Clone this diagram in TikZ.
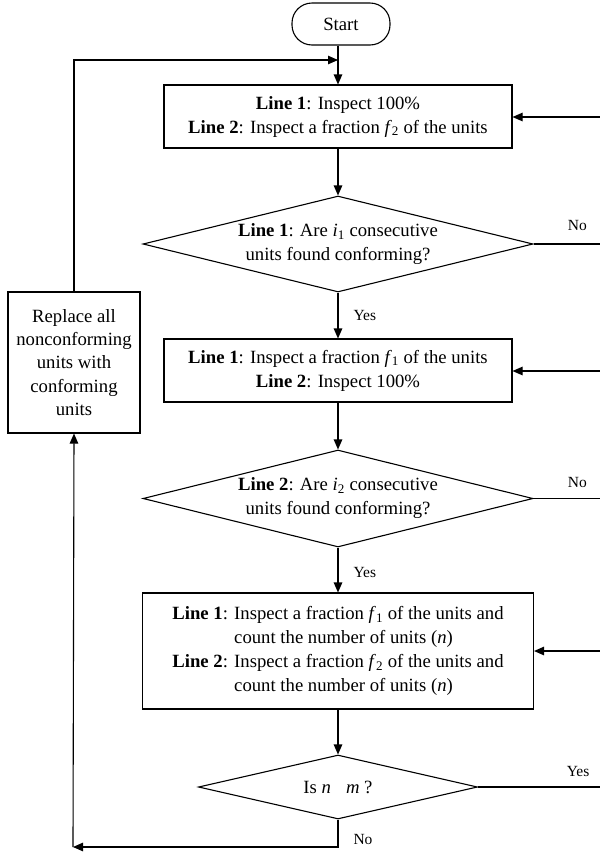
\documentclass[tikz,border=0pt]{standalone}
\usepackage{fontspec}
\setmainfont{Liberation Serif}
\usetikzlibrary{shapes.geometric,arrows.meta}
\newcommand\vsub[2]{\textit{#1}\textsubscript{#2}}
\begin{document}
\begin{tikzpicture}[x=1pt,y=-1pt,
  every node/.style={font=\fontsize{18.7}{24}\selectfont},
  box/.style={draw, line width=1.1pt, inner sep=0pt, align=center},
  dia/.style={draw, diamond, line width=1.1pt, inner sep=0pt, aspect=4, align=center},
  term/.style={draw, line width=1.1pt, rounded corners=20pt, inner sep=0pt},
  arr/.style={line width=1.1pt, -{Triangle[length=10pt,width=8.5pt]}},
  ln/.style={line width=1.1pt},
  lab/.style={font=\fontsize{15.5}{18}\selectfont, inner sep=0pt}]
\useasboundingbox (0,0) rectangle (600,852);

\node[term, minimum width=98pt, minimum height=42pt] (start) at (341,24) {Start};

\node[box, minimum width=348pt, minimum height=63pt] (box1) at (338,116.5)
  {\textbf{Line 1}: Inspect 100\%\\\textbf{Line 2}: Inspect a fraction \vsub{f}{2} of the units};

\node[dia, minimum width=390pt, minimum height=96pt] (d1) at (338,244)
  {\textbf{Line 1}: Are \vsub{i}{1} consecutive\\units found conforming?};

\node[box, minimum width=348pt, minimum height=63pt] (box2) at (338,370.5)
  {\textbf{Line 1}: Inspect a fraction \vsub{f}{1} of the units\\\textbf{Line 2}: Inspect 100\%};

\node[dia, minimum width=390pt, minimum height=97pt] (d2) at (338,498.5)
  {\textbf{Line 2}: Are \vsub{i}{2} consecutive\\units found conforming?};

\node[box, minimum width=391pt, minimum height=116pt] (box3) at (338,651)
  {\begin{tabular}{@{}r@{ }l@{}}
   \textbf{Line 1}: & Inspect a fraction \vsub{f}{1} of the units and\\
   & count the number of units (\textit{n})\\
   \textbf{Line 2}: & Inspect a fraction \vsub{f}{2} of the units and\\
   & count the number of units (\textit{n})
   \end{tabular}};

\node[dia, minimum width=279pt, minimum height=64pt] (d3) at (338,787)
  {Is \textit{n}\hspace{15pt}\textit{m} ?};

\node[box, minimum width=132pt, minimum height=141pt, font=\fontsize{18.7}{23.3}\selectfont] (rep) at (74,362.5)
  {Replace all\\nonconforming\\units with\\conforming\\units};

\coordinate (j1) at (338,60);
\coordinate (c1) at (73,847);
\coordinate (e1) at (600,244);
\coordinate (r1) at (600,117);
\coordinate (e2) at (600,498.5);
\coordinate (r2) at (600,371);
\coordinate (e3) at (600,787);
\coordinate (r3) at (600,651);

% main column
\draw[arr] (start.south -| box1.north) -- (box1.north);
\draw[arr] (box1.south) -- (d1.north);
\draw[arr] (d1.south) -- node[lab, pos=0.5, anchor=west, xshift=15pt]{Yes} (box2.north);
\draw[arr] (box2.south) -- (d2.north);
\draw[arr] (d2.south) -- node[lab, pos=0.55, anchor=west, xshift=15pt]{Yes} (box3.north);
\draw[arr] (box3.south) -- (d3.north);

% right loops
\draw[ln] (d1.east) -- node[lab, pos=0.66, anchor=base, yshift=14pt]{No} (e1);
\draw[arr] (r1) -- (r1 -| box1.east);
\draw[ln] (d2.east) -- node[lab, pos=0.66, anchor=base, yshift=11pt]{No} (e2);
\draw[arr] (r2) -- (r2 -| box2.east);
\draw[ln] (d3.east) -- node[lab, pos=0.82, anchor=base, yshift=11pt]{Yes} (e3);
\draw[arr] (r3) -- (r3 -| box3.east);

% left loop
\draw[arr] (d3.south) -- node[lab, pos=1, anchor=base west, xshift=15pt, yshift=3pt]{No} (d3.south |- c1) -- (c1);
\draw[arr] (c1) -- (rep.south);
\draw[arr] (rep.north) |- (j1);
\end{tikzpicture}
\end{document}
